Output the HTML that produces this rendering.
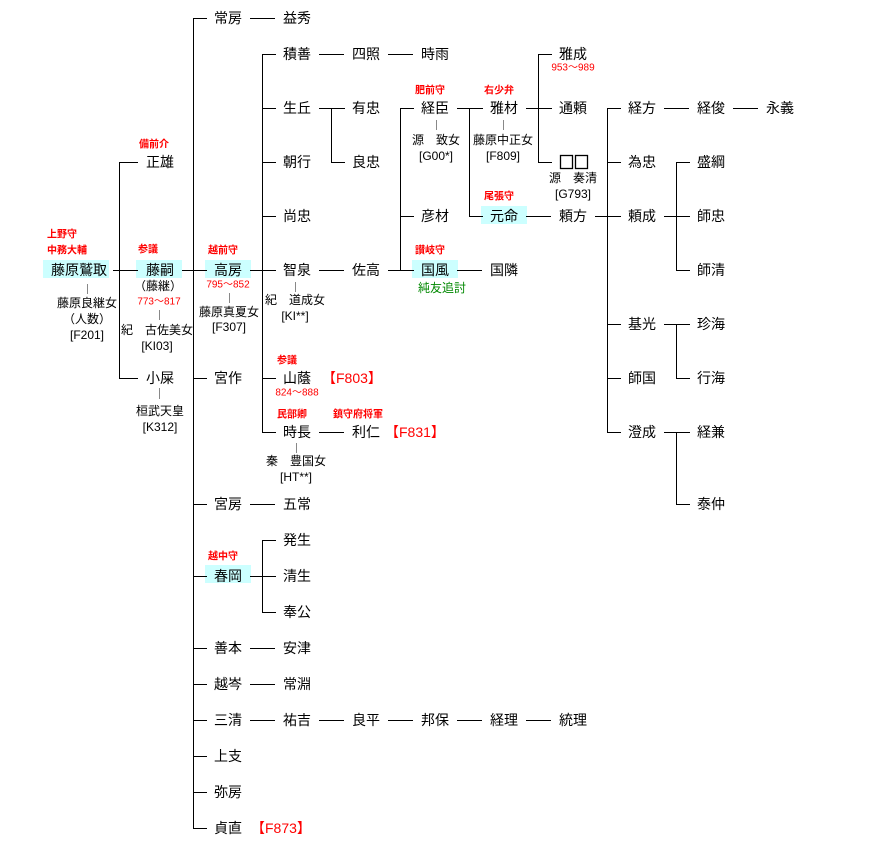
<!DOCTYPE html>
<html><head><meta charset="utf-8"><style>
html,body{margin:0;padding:0;background:#fff;}
svg{display:block;font-family:"Liberation Sans","Noto Sans CJK JP",sans-serif;}
.n{font-size:14px;fill:#000;text-anchor:middle;dominant-baseline:central;}
.s{font-size:12px;fill:#000;text-anchor:middle;dominant-baseline:central;}
.r{font-size:10px;fill:#f00;font-weight:bold;text-anchor:middle;dominant-baseline:central;}
.rd{font-size:10px;fill:#f00;text-anchor:middle;dominant-baseline:central;}
.rf{font-size:14px;fill:#f00;text-anchor:start;dominant-baseline:central;}
.g{font-size:12px;fill:#080;text-anchor:middle;dominant-baseline:central;}
line{stroke:#000;stroke-width:1;}
.t{stroke:#888;}
</style></head><body>
<svg width="889" height="842" viewBox="0 0 889 842">
<g fill="#ccffff">
<rect x="43" y="260" width="66" height="18"/>
<rect x="136" y="260" width="46" height="18"/>
<rect x="205" y="260" width="46" height="18"/>
<rect x="481" y="206" width="46" height="18"/>
<rect x="412" y="260" width="46" height="18"/>
<rect x="205" y="565" width="46" height="18"/>
</g>
<g>
<line x1="119.5" y1="162" x2="119.5" y2="378"/>
<line x1="193.5" y1="18" x2="193.5" y2="828"/>
<line x1="262.5" y1="54" x2="262.5" y2="432"/>
<line x1="262.5" y1="540" x2="262.5" y2="612"/>
<line x1="331.5" y1="108" x2="331.5" y2="162"/>
<line x1="400.5" y1="108" x2="400.5" y2="270"/>
<line x1="469.5" y1="108" x2="469.5" y2="216"/>
<line x1="538.5" y1="54" x2="538.5" y2="162"/>
<line x1="607.5" y1="108" x2="607.5" y2="432"/>
<line x1="676.5" y1="162" x2="676.5" y2="270"/>
<line x1="676.5" y1="324" x2="676.5" y2="378"/>
<line x1="676.5" y1="432" x2="676.5" y2="504"/>
</g>
<g>
<line x1="113" y1="270.5" x2="138" y2="270.5"/>
<line x1="119" y1="162.5" x2="138" y2="162.5"/>
<line x1="119" y1="378.5" x2="138" y2="378.5"/>
<line x1="182" y1="270.5" x2="207" y2="270.5"/>
<line x1="193" y1="18.5" x2="207" y2="18.5"/>
<line x1="193" y1="378.5" x2="207" y2="378.5"/>
<line x1="193" y1="504.5" x2="207" y2="504.5"/>
<line x1="193" y1="576.5" x2="207" y2="576.5"/>
<line x1="193" y1="648.5" x2="207" y2="648.5"/>
<line x1="193" y1="684.5" x2="207" y2="684.5"/>
<line x1="193" y1="720.5" x2="207" y2="720.5"/>
<line x1="193" y1="756.5" x2="207" y2="756.5"/>
<line x1="193" y1="792.5" x2="207" y2="792.5"/>
<line x1="193" y1="828.5" x2="207" y2="828.5"/>
<line x1="250" y1="18.5" x2="275" y2="18.5"/>
<line x1="250" y1="270.5" x2="276" y2="270.5"/>
<line x1="250" y1="576.5" x2="276" y2="576.5"/>
<line x1="250" y1="504.5" x2="275" y2="504.5"/>
<line x1="250" y1="648.5" x2="275" y2="648.5"/>
<line x1="250" y1="684.5" x2="275" y2="684.5"/>
<line x1="250" y1="720.5" x2="275" y2="720.5"/>
<line x1="262" y1="54.5" x2="276" y2="54.5"/>
<line x1="262" y1="108.5" x2="276" y2="108.5"/>
<line x1="262" y1="162.5" x2="276" y2="162.5"/>
<line x1="262" y1="216.5" x2="276" y2="216.5"/>
<line x1="262" y1="378.5" x2="276" y2="378.5"/>
<line x1="262" y1="432.5" x2="276" y2="432.5"/>
<line x1="262" y1="540.5" x2="276" y2="540.5"/>
<line x1="262" y1="612.5" x2="276" y2="612.5"/>
<line x1="319" y1="54.5" x2="344" y2="54.5"/>
<line x1="319" y1="108.5" x2="345" y2="108.5"/>
<line x1="331" y1="162.5" x2="345" y2="162.5"/>
<line x1="319" y1="270.5" x2="344" y2="270.5"/>
<line x1="319" y1="432.5" x2="344" y2="432.5"/>
<line x1="319" y1="720.5" x2="344" y2="720.5"/>
<line x1="388" y1="54.5" x2="413" y2="54.5"/>
<line x1="388" y1="270.5" x2="414" y2="270.5"/>
<line x1="400" y1="108.5" x2="414" y2="108.5"/>
<line x1="400" y1="216.5" x2="414" y2="216.5"/>
<line x1="388" y1="720.5" x2="413" y2="720.5"/>
<line x1="457" y1="108.5" x2="483" y2="108.5"/>
<line x1="469" y1="216.5" x2="483" y2="216.5"/>
<line x1="457" y1="270.5" x2="482" y2="270.5"/>
<line x1="457" y1="720.5" x2="482" y2="720.5"/>
<line x1="526" y1="108.5" x2="552" y2="108.5"/>
<line x1="526" y1="216.5" x2="551" y2="216.5"/>
<line x1="526" y1="720.5" x2="551" y2="720.5"/>
<line x1="538" y1="54.5" x2="552" y2="54.5"/>
<line x1="538" y1="162.5" x2="552" y2="162.5"/>
<line x1="595" y1="216.5" x2="621" y2="216.5"/>
<line x1="607" y1="108.5" x2="621" y2="108.5"/>
<line x1="607" y1="162.5" x2="621" y2="162.5"/>
<line x1="607" y1="324.5" x2="621" y2="324.5"/>
<line x1="607" y1="378.5" x2="621" y2="378.5"/>
<line x1="607" y1="432.5" x2="621" y2="432.5"/>
<line x1="664" y1="108.5" x2="689" y2="108.5"/>
<line x1="664" y1="216.5" x2="690" y2="216.5"/>
<line x1="664" y1="324.5" x2="690" y2="324.5"/>
<line x1="664" y1="432.5" x2="690" y2="432.5"/>
<line x1="676" y1="162.5" x2="690" y2="162.5"/>
<line x1="676" y1="270.5" x2="690" y2="270.5"/>
<line x1="676" y1="378.5" x2="690" y2="378.5"/>
<line x1="676" y1="504.5" x2="690" y2="504.5"/>
<line x1="733" y1="108.5" x2="758" y2="108.5"/>
</g>
<g>
<line class="t" x1="87.5" y1="284" x2="87.5" y2="294"/>
<line class="t" x1="159.5" y1="310" x2="159.5" y2="320"/>
<line class="t" x1="159.5" y1="388" x2="159.5" y2="399"/>
<line class="t" x1="229.5" y1="293" x2="229.5" y2="303"/>
<line class="t" x1="295.5" y1="282" x2="295.5" y2="292"/>
<line class="t" x1="296.5" y1="443" x2="296.5" y2="453"/>
<line class="t" x1="436.5" y1="120" x2="436.5" y2="130"/>
<line class="t" x1="503.5" y1="120" x2="503.5" y2="130"/>
</g>
<text class="n" x="79" y="270">藤原鷲取</text>
<text class="r" x="62" y="235">上野守</text>
<text class="r" x="67" y="251">中務大輔</text>
<text class="s" x="87" y="303">藤原良継女</text>
<text class="s" x="87" y="319">（人数）</text>
<text class="s" x="87" y="335">[F201]</text>

<text class="n" x="160" y="162">正雄</text>
<text class="r" x="154" y="145">備前介</text>
<text class="n" x="160" y="270">藤嗣</text>
<text class="r" x="148" y="250">参議</text>
<text class="s" x="158" y="286">（藤継）</text>
<text class="rd" x="159" y="302">773～817</text>
<text class="s" x="157" y="330">紀　古佐美女</text>
<text class="s" x="157" y="346">[KI03]</text>
<text class="n" x="160" y="378">小屎</text>
<text class="s" x="160" y="411">桓武天皇</text>
<text class="s" x="160" y="427">[K312]</text>

<text class="n" x="228" y="18">常房</text>
<text class="n" x="228" y="270">高房</text>
<text class="r" x="223" y="251">越前守</text>
<text class="rd" x="228" y="285">795～852</text>
<text class="s" x="229" y="312">藤原真夏女</text>
<text class="s" x="229" y="327">[F307]</text>
<text class="n" x="228" y="378">宮作</text>
<text class="n" x="228" y="504">宮房</text>
<text class="n" x="228" y="576">春岡</text>
<text class="r" x="223" y="557">越中守</text>
<text class="n" x="228" y="648">善本</text>
<text class="n" x="228" y="684">越岑</text>
<text class="n" x="228" y="720">三清</text>
<text class="n" x="228" y="756">上支</text>
<text class="n" x="228" y="792">弥房</text>
<text class="n" x="228" y="828">貞直</text>
<text class="rf" x="251" y="828">【F873】</text>

<text class="n" x="297" y="18">益秀</text>
<text class="n" x="297" y="54">積善</text>
<text class="n" x="297" y="108">生丘</text>
<text class="n" x="297" y="162">朝行</text>
<text class="n" x="297" y="216">尚忠</text>
<text class="n" x="297" y="270">智泉</text>
<text class="s" x="295" y="300">紀　道成女</text>
<text class="s" x="295" y="316">[KI**]</text>
<text class="n" x="297" y="378">山蔭</text>
<text class="r" x="287" y="361">参議</text>
<text class="rf" x="322" y="378">【F803】</text>
<text class="rd" x="297" y="393">824～888</text>
<text class="n" x="297" y="432">時長</text>
<text class="r" x="292" y="415">民部卿</text>
<text class="s" x="296" y="461">秦　豊国女</text>
<text class="s" x="296" y="477">[HT**]</text>
<text class="n" x="297" y="504">五常</text>
<text class="n" x="297" y="540">発生</text>
<text class="n" x="297" y="576">清生</text>
<text class="n" x="297" y="612">奉公</text>
<text class="n" x="297" y="648">安津</text>
<text class="n" x="297" y="684">常淵</text>
<text class="n" x="297" y="720">祐吉</text>

<text class="n" x="366" y="54">四照</text>
<text class="n" x="366" y="108">有忠</text>
<text class="n" x="366" y="162">良忠</text>
<text class="n" x="366" y="270">佐高</text>
<text class="n" x="366" y="432">利仁</text>
<text class="r" x="358" y="415">鎮守府将軍</text>
<text class="rf" x="385" y="432">【F831】</text>
<text class="n" x="366" y="720">良平</text>

<text class="n" x="435" y="54">時雨</text>
<text class="n" x="435" y="108">経臣</text>
<text class="r" x="430" y="91">肥前守</text>
<text class="s" x="436" y="140">源　致女</text>
<text class="s" x="436" y="156">[G00*]</text>
<text class="n" x="435" y="216">彦材</text>
<text class="n" x="435" y="270">国風</text>
<text class="r" x="430" y="251">讃岐守</text>
<text class="g" x="442" y="288">純友追討</text>
<text class="n" x="435" y="720">邦保</text>

<text class="n" x="504" y="108">雅材</text>
<text class="r" x="499" y="91">右少弁</text>
<text class="s" x="503" y="140">藤原中正女</text>
<text class="s" x="503" y="156">[F809]</text>
<text class="n" x="504" y="216">元命</text>
<text class="r" x="499" y="197">尾張守</text>
<text class="n" x="504" y="270">国隣</text>
<text class="n" x="504" y="720">経理</text>

<text class="n" x="573" y="54">雅成</text>
<text class="rd" x="573" y="68">953～989</text>
<g fill="none" stroke="#000" stroke-width="1.3">
<rect x="560.5" y="155.5" width="12" height="13"/>
<rect x="575.5" y="155.5" width="12" height="13"/>
</g>
<text class="s" x="573" y="178">源　奏清</text>
<text class="s" x="573" y="194">[G793]</text>
<text class="n" x="573" y="108">通頼</text>
<text class="n" x="573" y="216">頼方</text>
<text class="n" x="573" y="720">統理</text>

<text class="n" x="642" y="108">経方</text>
<text class="n" x="642" y="162">為忠</text>
<text class="n" x="642" y="216">頼成</text>
<text class="n" x="642" y="324">基光</text>
<text class="n" x="642" y="378">師国</text>
<text class="n" x="642" y="432">澄成</text>

<text class="n" x="711" y="108">経俊</text>
<text class="n" x="711" y="162">盛綱</text>
<text class="n" x="711" y="216">師忠</text>
<text class="n" x="711" y="270">師清</text>
<text class="n" x="711" y="324">珍海</text>
<text class="n" x="711" y="378">行海</text>
<text class="n" x="711" y="432">経兼</text>
<text class="n" x="711" y="504">泰仲</text>

<text class="n" x="780" y="108">永義</text>
</svg>
</body></html>
